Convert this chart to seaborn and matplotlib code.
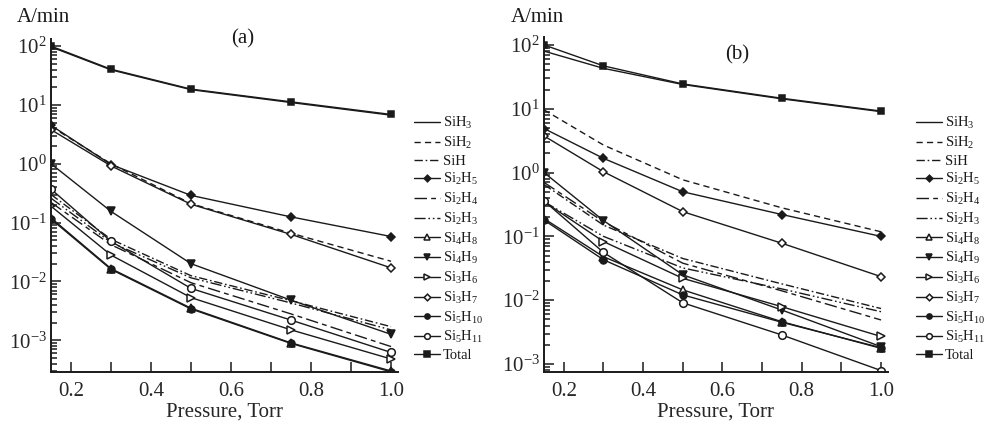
import matplotlib
matplotlib.use("Agg")
import matplotlib.pyplot as plt
import matplotlib.ticker as mticker
import seaborn as sns
import numpy as np

# ---------------- data ----------------
pressure = [0.15, 0.3, 0.5, 0.75, 1.0]
species = ["SiH3", "SiH2", "SiH", "Si2H5", "Si2H4", "Si2H3", "Si4H8",
           "Si4H9", "Si3H6", "Si3H7", "Si5H10", "Si5H11", "Total"]
labels = [r"SiH$_3$", r"SiH$_2$", "SiH", r"Si$_2$H$_5$", r"Si$_2$H$_4$",
          r"Si$_2$H$_3$", r"Si$_4$H$_8$", r"Si$_4$H$_9$", r"Si$_3$H$_6$",
          r"Si$_3$H$_7$", r"Si$_5$H$_{10}$", r"Si$_5$H$_{11}$", "Total"]

# panel (a)
a_SiH3 = [97, 39.5, 18.2, 11.0, 6.7]
a_SiH2 = [4.3, 1.0, 0.21, 0.066, 0.022]
a_SiH = [0.30, 0.052, 0.0125, 0.0047, 0.0017]
a_Si2H5 = [4.5, 0.97, 0.29, 0.125, 0.058]
a_Si2H4 = [0.22, 0.042, 0.0095, 0.0028, 0.00078]
a_Si2H3 = [0.26, 0.046, 0.0115, 0.0043, 0.0015]
a_Si4H8 = [0.12, 0.0165, 0.0035, 0.0009, 0.0003]
a_Si4H9 = [1.0, 0.155, 0.020, 0.0048, 0.00126]
a_Si3H6 = [0.19, 0.028, 0.0053, 0.0015, 0.00048]
a_Si3H7 = [3.8, 0.92, 0.205, 0.063, 0.017]
a_Si5H10 = [0.115, 0.016, 0.0034, 0.00088, 0.00029]
a_Si5H11 = [0.37, 0.048, 0.0076, 0.0022, 0.00062]
a_Total = [100, 40.5, 18.6, 11.3, 6.9]

# panel (b)
b_SiH3 = [80, 43, 24, 14.3, 9.0]
b_SiH2 = [9.6, 2.7, 0.77, 0.28, 0.118]
b_SiH = [0.65, 0.15, 0.045, 0.018, 0.0074]
b_Si2H5 = [4.9, 1.67, 0.5, 0.22, 0.10]
b_Si2H4 = [0.7, 0.17, 0.038, 0.014, 0.0049]
b_Si2H3 = [0.35, 0.10, 0.032, 0.015, 0.0066]
b_Si4H8 = [0.19, 0.048, 0.0145, 0.0046, 0.00176]
b_Si4H9 = [1.0, 0.177, 0.025, 0.0070, 0.00187]
b_Si3H6 = [0.35, 0.083, 0.022, 0.0079, 0.0027]
b_Si3H7 = [3.75, 1.03, 0.244, 0.078, 0.0234]
b_Si5H10 = [0.18, 0.043, 0.0121, 0.0045, 0.0018]
b_Si5H11 = [0.36, 0.056, 0.0091, 0.00285, 0.00079]
b_Total = [100, 47, 24.5, 14.6, 9.2]

panel_a = [a_SiH3, a_SiH2, a_SiH, a_Si2H5, a_Si2H4, a_Si2H3, a_Si4H8,
           a_Si4H9, a_Si3H6, a_Si3H7, a_Si5H10, a_Si5H11, a_Total]
panel_b = [b_SiH3, b_SiH2, b_SiH, b_Si2H5, b_Si2H4, b_Si2H3, b_Si4H8,
           b_Si4H9, b_Si3H6, b_Si3H7, b_Si5H10, b_Si5H11, b_Total]

# ---------------- styles ----------------
INK = "#1a1a1a"
styles = {
    "SiH3": dict(ls="-", marker=None, fill=True),
    "SiH2": dict(ls=(0, (4.5, 3)), marker=None, fill=True),
    "SiH": dict(ls=(0, (6, 2, 1.2, 2)), marker=None, fill=True),
    "Si2H5": dict(ls="-", marker="D", fill=True, ms=4.5),
    "Si2H4": dict(ls=(0, (9, 3, 3.5, 3)), marker=None, fill=True),
    "Si2H3": dict(ls=(0, (8, 2, 1.2, 2, 1.2, 2)), marker=None, fill=True),
    "Si4H8": dict(ls="-", marker="^", fill=False, ms=6),
    "Si4H9": dict(ls="-", marker="v", fill=True, ms=6),
    "Si3H6": dict(ls="-", marker=">", fill=False, ms=6),
    "Si3H7": dict(ls="-", marker="D", fill=False, ms=4.5),
    "Si5H10": dict(ls="-", marker="o", fill=True, ms=5),
    "Si5H11": dict(ls="-", marker="o", fill=False, ms=5.5),
    "Total": dict(ls="-", marker="s", fill=True, ms=5),
}

sns.set_style("ticks")
plt.rcParams["font.family"] = ["Liberation Serif", "DejaVu Serif"]
plt.rcParams["mathtext.fontset"] = "custom"
plt.rcParams["mathtext.rm"] = "Liberation Serif"
plt.rcParams["mathtext.it"] = "Liberation Serif:italic"
plt.rcParams["mathtext.default"] = "regular"
plt.rcParams["axes.edgecolor"] = INK
plt.rcParams["text.color"] = INK

fig = plt.figure(figsize=(9.85, 4.23), dpi=100)
ax_a = fig.add_axes([0.0518, 0.1206, 0.3523, 0.787])
ax_b = fig.add_axes([0.5523, 0.1206, 0.3492, 0.792])


def draw(ax, series, ylim, tag, tagpos, leg_x):
    for name, lab, vals in zip(species, labels, series):
        st = styles[name]
        kw = dict(color=INK, linewidth=1.0, linestyle=st["ls"], label=lab)
        if st["marker"]:
            kw.update(marker=st["marker"], markersize=st["ms"],
                      markeredgecolor=INK, markeredgewidth=1.1,
                      markerfacecolor=INK if st["fill"] else "white")
        sns.lineplot(x=pressure, y=vals, ax=ax, estimator=None, sort=False, **kw)
    ax.set_yscale("log")
    ax.set_xlim(0.15, 1.0175)
    ax.set_ylim(*ylim)
    ax.xaxis.set_major_locator(mticker.FixedLocator([0.2, 0.4, 0.6, 0.8, 1.0]))
    ax.xaxis.set_major_formatter(mticker.FormatStrFormatter("%.1f"))
    ax.xaxis.set_minor_locator(mticker.FixedLocator([0.3, 0.5, 0.7, 0.9]))
    ax.yaxis.set_major_locator(mticker.LogLocator(base=10, numticks=12))
    ax.yaxis.set_minor_locator(mticker.LogLocator(base=10, subs=np.arange(2, 10), numticks=12))
    ax.yaxis.set_minor_formatter(mticker.NullFormatter())
    ax.tick_params(axis="both", which="both", direction="in", color=INK,
                   labelsize=15, width=1.1)
    ax.tick_params(axis="x", which="both", length=7, pad=7)
    ax.tick_params(axis="y", which="major", length=7, pad=3)
    ax.tick_params(axis="y", which="minor", length=4)
    for s in ("left", "bottom"):
        ax.spines[s].set_linewidth(1.4)
    sns.despine(ax=ax)
    ax.set_xlabel("Pressure, Torr", fontsize=15, labelpad=1)
    ax.set_ylabel("")
    ax.text(tagpos[0], tagpos[1], tag, transform=fig.transFigure,
            fontsize=15, ha="center", va="center")
    leg = ax.legend(loc="upper left", bbox_to_anchor=(leg_x, 1 - 115 / 423),
                    bbox_transform=fig.transFigure, frameon=False,
                    fontsize=10.5, handlelength=1.75, handletextpad=0.25,
                    labelspacing=0.25, markerscale=0.75, borderpad=0,
                    borderaxespad=0)
    return leg


draw(ax_a, panel_a, (10 ** -3.54, 10 ** 2.12), "(a)", (243 / 985, 1 - 39 / 423), 414 / 985)
draw(ax_b, panel_b, (10 ** -3.125, 10 ** 2.125), "(b)", (737 / 985, 1 - 55 / 423), 916 / 985)

fig.text(17 / 985, 1 - 18 / 423, "A/min", fontsize=15, ha="left", va="center")
fig.text(511 / 985, 1 - 18 / 423, "A/min", fontsize=15, ha="left", va="center")

fig.savefig("out.png", dpi=100, facecolor="white")
